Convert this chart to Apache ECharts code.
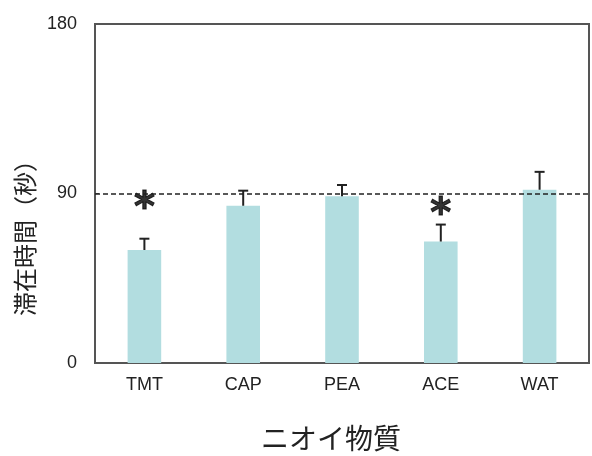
<!DOCTYPE html>
<html>
<head>
<meta charset="utf-8">
<script src="https://cdn.jsdelivr.net/npm/echarts@6/dist/echarts.min.js"></script>
<style>
  html, body { margin: 0; padding: 0; background: #fff; }
  #chart { width: 592px; height: 456px; }
</style>
</head>
<body>
<div id="chart"></div>
<script>
// Odor substances and mean residence time (seconds) with error bars
var categories = ['TMT', 'CAP', 'PEA', 'ACE', 'WAT'];
var means = [60, 83.5, 88.5, 64.5, 92];
var errors = [6, 8, 6, 9, 9.5];
// Significance markers (asterisk height on the value axis, null = none)
var sigMarks = [86.5, null, null, 83.5, null];
var chanceLevel = 90;
var yTicks = [0, 90, 180];

var chart = echarts.init(document.getElementById('chart'));

var errData = categories.map(function (c, i) { return [i, means[i], means[i] + errors[i]]; });
var sigData = [];
sigMarks.forEach(function (v, i) { if (v != null) sigData.push([i, v]); });

var option = {
  animation: false,
  grid: { left: 95, right: 3, top: 24, bottom: 93, show: true, borderColor: '#555', borderWidth: 2 },
  xAxis: {
    type: 'category',
    data: categories,
    axisLine: { lineStyle: { color: '#555', width: 2 } },
    axisTick: { show: false },
    axisLabel: { color: '#222', fontSize: 18, fontFamily: 'Liberation Sans', margin: 13 }
  },
  yAxis: {
    type: 'value',
    min: yTicks[0],
    max: yTicks[yTicks.length - 1],
    interval: yTicks[1] - yTicks[0],
    splitLine: { show: false },
    axisLine: { show: true, lineStyle: { color: '#555', width: 2 } },
    axisTick: { show: true, inside: true, length: 4, lineStyle: { color: '#555' } },
    axisLabel: { color: '#222', fontSize: 18, fontFamily: 'Liberation Sans', margin: 18 }
  },
  graphic: [
    {
      type: 'text', position: [25, 232], rotation: Math.PI / 2,
      style: { text: '滞在時間（秒）', fontSize: 24, fontFamily: 'Noto Sans CJK JP', fill: '#222',
               textAlign: 'center', textVerticalAlign: 'middle' }
    },
    {
      type: 'text', position: [331, 438],
      style: { text: 'ニオイ物質', fontSize: 28, fontFamily: 'Noto Sans CJK JP', fill: '#222',
               textAlign: 'center', textVerticalAlign: 'middle' }
    }
  ],
  series: [
    {
      type: 'bar',
      data: means,
      barWidth: '34%',
      itemStyle: { color: '#b2dde0' },
      markLine: {
        silent: true,
        symbol: 'none',
        label: { show: false },
        lineStyle: { color: '#222', width: 1.5, type: [5, 3] },
        data: [{ yAxis: chanceLevel }]
      },
      z: 2
    },
    {
      type: 'custom',
      data: errData,
      z: 3,
      renderItem: function (params, api) {
        var base = api.coord([api.value(0), api.value(1)]);
        var top = api.coord([api.value(0), api.value(2)]);
        var hw = 5;
        return {
          type: 'group',
          children: [
            { type: 'line', shape: { x1: base[0], y1: base[1], x2: top[0], y2: top[1] },
              style: { stroke: '#222', lineWidth: 2 } },
            { type: 'line', shape: { x1: top[0] - hw, y1: top[1], x2: top[0] + hw, y2: top[1] },
              style: { stroke: '#222', lineWidth: 2 } }
          ]
        };
      }
    },
    {
      type: 'scatter',
      data: sigData,
      symbolSize: 0,
      z: 4,
      label: {
        show: true, position: 'inside', formatter: '*',
        fontSize: 40, fontWeight: 'bold', fontFamily: 'DejaVu Sans', color: '#000',
        offset: [0, 10],
        textBorderColor: '#000', textBorderWidth: 1
      }
    }
  ]
};
chart.setOption(option);
</script>
</body>
</html>
